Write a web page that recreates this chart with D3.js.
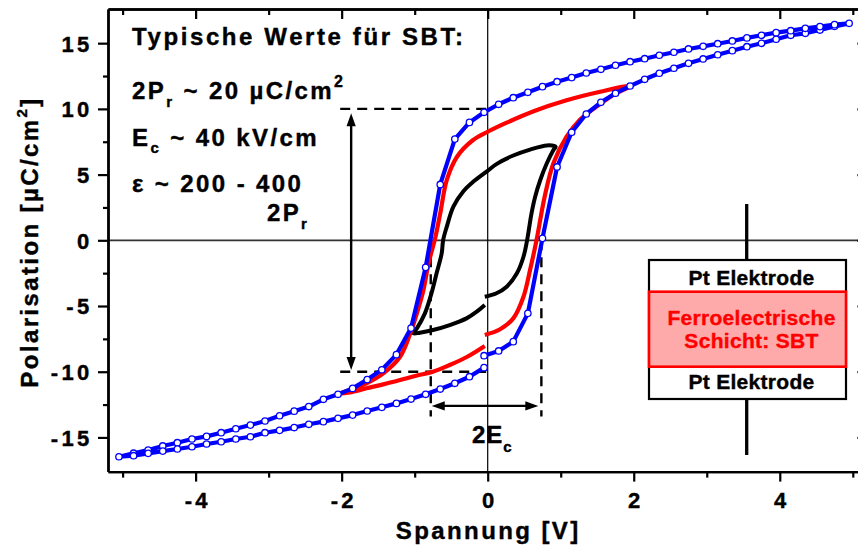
<!DOCTYPE html>
<html>
<head>
<meta charset="utf-8">
<script src="https://cdn.jsdelivr.net/npm/d3@7"></script>
<style>
  html, body { margin: 0; padding: 0; background: #fff; }
  svg { display: block; font-family: "Liberation Sans", Arial, sans-serif; font-weight: bold; }
  text { stroke: currentColor; stroke-width: 0.4px; }
</style>
</head>
<body>
<svg id="chart" width="858" height="547"></svg>
<script>
// Hysteresis sweeps, in measurement order (start at 0 V, up to +Vmax, down to -Vmax, back to 0 V)
// Voltage in V, polarisation in µC/cm²

// 5 V sweep (measured points, drawn with markers)
const blueV = [
  -0.05, 0.15, 0.35, 0.55, 0.75, 0.95, 1.15, 1.35, 1.55, 1.75, 1.95, 2.15, 2.35, 2.55, 2.75, 2.95, 3.15, 3.35, 3.55, 3.75, 3.95, 4.15, 4.35, 4.55, 4.75, 4.95,
  4.75, 4.55, 4.35, 4.15, 3.95, 3.75, 3.55, 3.35, 3.15, 2.95, 2.75, 2.55, 2.35, 2.15, 1.95, 1.75, 1.55, 1.35, 1.15, 0.95, 0.75, 0.55, 0.35, 0.15,
  -0.05, -0.25, -0.45, -0.65, -0.85, -1.05, -1.25, -1.45, -1.65, -1.85, -2.05, -2.25, -2.45, -2.65, -2.85, -3.05, -3.25, -3.45, -3.65, -3.85, -4.05, -4.25, -4.45, -4.65, -4.85, -5.05,
  -4.85, -4.65, -4.45, -4.25, -4.05, -3.85, -3.65, -3.45, -3.25, -3.05, -2.85, -2.65, -2.45, -2.25, -2.05, -1.85, -1.65, -1.45, -1.25, -1.05, -0.85, -0.65, -0.45, -0.25, -0.05
];
const blueP = [
  -8.78, -8.42, -7.71, -5.56, 0.15, 5.58, 8.22, 9.61, 10.5, 11.19, 11.74, 12.25, 12.71, 13.09, 13.47, 13.8, 14.12, 14.43, 14.73, 14.99, 15.3, 15.6, 15.75, 16.0, 16.28, 16.51,
  16.41, 16.26, 16.13, 15.95, 15.8, 15.6, 15.4, 15.17, 14.96, 14.76, 14.56, 14.31, 14.08, 13.82, 13.59, 13.32, 13.01, 12.73, 12.38, 12.07, 11.69, 11.26, 10.85, 10.35,
  9.74, 8.97, 7.7, 4.25, -2.06, -6.68, -8.7, -9.85, -10.6, -11.27, -11.72, -12.1, -12.65, -13.0, -13.35, -13.75, -14.06, -14.34, -14.64, -14.92, -15.12, -15.4, -15.65, -15.96, -16.2, -16.47,
  -16.39, -16.21, -16.04, -15.88, -15.71, -15.5, -15.33, -15.12, -14.95, -14.64, -14.46, -14.25, -14.0, -13.8, -13.55, -13.3, -12.99, -12.71, -12.41, -12.08, -11.72, -11.32, -10.88, -10.38, -9.69
];

// 2 V sweep
const redV = [
  -0.04, 0.17, 0.35, 0.49, 0.58, 0.67, 0.78, 0.9, 1.08, 1.26, 1.49, 1.72, 1.95,
  1.54, 1.08, 0.62, 0.26, 0.0, -0.2, -0.42, -0.56, -0.65, -0.72,
  -0.81, -0.88, -0.97, -1.06, -1.2, -1.43, -1.66, -1.89, -2.03,
  -1.89, -1.66, -1.43, -1.2, -0.98, -0.75, -0.52, -0.28, -0.04
];
const redP = [
  -7.2, -6.77, -5.94, -4.29, -2.26, 0.05, 3.32, 5.86, 7.88, 9.16, 10.17, 11.06, 11.74,
  11.3, 10.65, 9.8, 8.95, 8.26, 7.63, 6.36, 4.59, 2.05, 0.15,
  -1.75, -3.78, -5.56, -7.08, -8.86, -10.12, -10.88, -11.39, -11.68,
  -11.57, -11.26, -10.96, -10.63, -10.3, -10.0, -9.49, -8.86, -8.04
];

// 1 V sweep
const blackV = [
  -0.04, 0.12, 0.26, 0.4, 0.49, 0.54, 0.6, 0.65, 0.72, 0.81, 0.9, 0.93,
  0.81, 0.58, 0.35, 0.12, -0.01, -0.2, -0.33, -0.47, -0.56, -0.61, -0.63, -0.7, -0.77, -0.86, -0.97, -1.02,
  -0.93, -0.75, -0.52, -0.29, -0.15, -0.04
];
const blackP = [
  -4.29, -4.03, -3.53, -2.51, -1.25, 0.02, 2.05, 3.32, 4.59, 5.86, 6.87, 7.12,
  7.22, 6.9, 6.45, 5.8, 5.25, 4.45, 3.75, 2.56, 1.04, 0.02, -0.99, -2.51, -4.03, -5.56, -6.7, -7.08,
  -7.03, -6.83, -6.45, -5.94, -5.43, -4.92
];

// Annotation values
const remanentP = 10;             // ±Pr
const coerciveV = [-0.78, 0.735]; // ±Ec (as voltage)

// Axis ticks
const xMajorTicks = [-4, -2, 0, 2, 4];
const xMinorTicks = [-5, -3, -1, 1, 3, 5];
const yMajorTicks = [-15, -10, -5, 0, 5, 10, 15];
const yMinorTicks = [-12.5, -7.5, -2.5, 2.5, 7.5, 12.5];

// Text
const infoTitle = "Typische Werte für SBT:";
const xTitle = "Spannung [V]";
const layerTop = "Pt Elektrode";
const layerMid = ["Ferroelectrische", "Schicht: SBT"];
const layerBottom = "Pt Elektrode";

// ---------------------------------------------------------------
const svg = d3.select("#chart");
const x = d3.scaleLinear().domain([-5.2, 5.2]).range([108, 867.4]);
const y = d3.scaleLinear().domain([-17.6, 17.6]).range([471.6, 9]);

const plot = svg.append("g");

// zero lines
plot.append("line")
  .attr("x1", x(-5.2)).attr("x2", x(5.2)).attr("y1", y(0)).attr("y2", y(0))
  .attr("stroke", "#333").attr("stroke-width", 1.8);
plot.append("line")
  .attr("x1", x(0)).attr("x2", x(0)).attr("y1", y(17.6)).attr("y2", y(-17.6))
  .attr("stroke", "#000").attr("stroke-width", 1.2);

// dashed guide lines
const dash = (a, b) => plot.append("line")
  .attr("x1", x(a[0])).attr("y1", y(a[1])).attr("x2", x(b[0])).attr("y2", y(b[1]))
  .attr("stroke", "#000").attr("stroke-width", 2.4).attr("stroke-dasharray", "10,7");
dash([-2.02, remanentP], [0, remanentP]);
dash([-2.02, -remanentP], [0.04, -remanentP]);
dash([coerciveV[0], 0], [coerciveV[0], -13.4]);
dash([coerciveV[1], 0], [coerciveV[1], -13.4]);

// curves
const zip = (vs, ps) => vs.map((v, i) => [v, ps[i]]);
const smooth = d3.line().x(d => x(d[0])).y(d => y(d[1])).curve(d3.curveCatmullRom.alpha(0.5));
const straight = d3.line().x(d => x(d[0])).y(d => y(d[1]));

plot.append("path").datum(zip(blackV, blackP))
  .attr("d", smooth).attr("fill", "none").attr("stroke", "#000")
  .attr("stroke-width", 4).attr("stroke-linejoin", "round");
plot.append("path").datum(zip(redV, redP))
  .attr("d", smooth).attr("fill", "none").attr("stroke", "#ff0000")
  .attr("stroke-width", 4.2).attr("stroke-linejoin", "round");

const blue = zip(blueV, blueP);
plot.append("path").datum(blue)
  .attr("d", straight).attr("fill", "none").attr("stroke", "#0000ff")
  .attr("stroke-width", 4.2).attr("stroke-linejoin", "round");
plot.append("g").selectAll("circle").data(blue).join("circle")
  .attr("cx", d => x(d[0])).attr("cy", d => y(d[1])).attr("r", 3.2)
  .attr("fill", "#fff").attr("stroke", "#0000ff").attr("stroke-width", 1.3);

// double-headed arrows
function arrow(a, b) {
  const x1 = x(a[0]), y1 = y(a[1]), x2 = x(b[0]), y2 = y(b[1]);
  const len = Math.hypot(x2 - x1, y2 - y1), ux = (x2 - x1) / len, uy = (y2 - y1) / len;
  const hl = 13, hw = 4.6;
  plot.append("line")
    .attr("x1", x1 + ux * (hl - 2)).attr("y1", y1 + uy * (hl - 2))
    .attr("x2", x2 - ux * (hl - 2)).attr("y2", y2 - uy * (hl - 2))
    .attr("stroke", "#000").attr("stroke-width", 2.4);
  const head = (tx, ty, dx, dy) => {
    const bx = tx + dx * hl, by = ty + dy * hl;
    plot.append("path")
      .attr("d", `M${tx},${ty}L${bx - dy * hw},${by + dx * hw}L${bx + dy * hw},${by - dx * hw}Z`)
      .attr("fill", "#000");
  };
  head(x1, y1, ux, uy);
  head(x2, y2, -ux, -uy);
}
arrow([-1.87, 9.67], [-1.87, -9.87]);
arrow([-0.766, -12.6], [0.693, -12.6]);

// text annotations
const txt = (sel, xp, yp, size, spacing) => sel.append("text")
  .attr("x", xp).attr("y", yp).attr("font-size", size).attr("letter-spacing", spacing)
  .attr("fill", "#000").attr("color", "#000");

txt(plot, 132, 45, 24, 2.6).text(infoTitle);
{
  const t = txt(plot, 132, 99.3, 24, 2.4);
  t.append("tspan").text("2P");
  t.append("tspan").attr("font-size", 15).attr("dy", 7.4).text("r");
  t.append("tspan").attr("dy", -7.4).text(" ~ 20 µC/cm");
  t.append("tspan").attr("font-size", 16).attr("dy", -12).text("2");
}
{
  const t = txt(plot, 132, 145.7, 24, 2.4);
  t.append("tspan").text("E");
  t.append("tspan").attr("font-size", 15).attr("dy", 7.6).text("c");
  t.append("tspan").attr("dy", -7.6).text(" ~ 40 kV/cm");
}
txt(plot, 132, 191.7, 24, 2.4).text("ε ~ 200 - 400");
{
  const t = txt(plot, 267, 220.7, 24, 2.3);
  t.append("tspan").text("2P");
  t.append("tspan").attr("font-size", 15).attr("dy", 8).text("r");
}
{
  const t = txt(plot, 472, 443, 24, 1);
  t.append("tspan").text("2E");
  t.append("tspan").attr("font-size", 15).attr("dy", 9).text("c");
}

// layer stack sketch
const stack = svg.append("g");
const sx0 = 649, sx1 = 846, wireX = 746.7;
stack.append("line").attr("x1", wireX).attr("x2", wireX).attr("y1", 204).attr("y2", 260)
  .attr("stroke", "#000").attr("stroke-width", 3.3);
stack.append("line").attr("x1", wireX).attr("x2", wireX).attr("y1", 399).attr("y2", 455)
  .attr("stroke", "#000").attr("stroke-width", 3.3);
stack.append("rect").attr("x", sx0).attr("y", 260).attr("width", sx1 - sx0).attr("height", 139)
  .attr("fill", "#fff").attr("stroke", "#000").attr("stroke-width", 2.2);
stack.append("rect").attr("x", sx0).attr("y", 291.7).attr("width", sx1 - sx0).attr("height", 75)
  .attr("fill", "#ffaaaa").attr("stroke", "#ff0000").attr("stroke-width", 2.6);
const cx = 751.5;
const label = (yp, s, col) => stack.append("text").attr("x", cx).attr("y", yp)
  .attr("text-anchor", "middle").attr("font-size", 21).attr("letter-spacing", 0.3)
  .attr("fill", col).attr("color", col).text(s);
label(285, layerTop, "#000");
label(325, layerMid[0], "#ff0000");
label(348.3, layerMid[1], "#ff0000");
label(389, layerBottom, "#000");

// axes (frame with ticks on all four sides)
function styleAxis(g) {
  g.attr("font-family", "Liberation Sans, Arial, sans-serif").attr("font-size", 22);
  g.select(".domain").attr("stroke", "#000").attr("stroke-width", 2.4);
  g.selectAll(".tick line").attr("stroke", "#000").attr("stroke-width", 2.2);
  g.selectAll(".tick text").attr("fill", "#000").attr("color", "#000").attr("font-weight", "bold")
    .attr("letter-spacing", 3.3);
}
const fmt = d => d3.format("d")(d).replace("\u2212", "-");
const frame = svg.append("g");
// bottom
frame.append("g").attr("transform", `translate(0,${y(-17.6)})`)
  .call(d3.axisBottom(x).tickValues(xMinorTicks).tickSize(6).tickSizeOuter(0).tickFormat(""))
  .call(styleAxis);
frame.append("g").attr("transform", `translate(0,${y(-17.6)})`)
  .call(d3.axisBottom(x).tickValues(xMajorTicks).tickSize(10).tickSizeOuter(0).tickPadding(11).tickFormat(fmt))
  .call(styleAxis)
  .call(g => g.selectAll(".tick text").attr("dx", 1.6));
// top (inward ticks)
frame.append("g").attr("transform", `translate(0,${y(17.6)})`)
  .call(d3.axisBottom(x).tickValues(xMinorTicks).tickSize(6).tickSizeOuter(0).tickFormat(""))
  .call(styleAxis);
frame.append("g").attr("transform", `translate(0,${y(17.6)})`)
  .call(d3.axisBottom(x).tickValues(xMajorTicks).tickSize(10).tickSizeOuter(0).tickFormat(""))
  .call(styleAxis);
// left
frame.append("g").attr("transform", `translate(${x(-5.2)},0)`)
  .call(d3.axisLeft(y).tickValues(yMinorTicks).tickSize(5).tickSizeOuter(0).tickFormat(""))
  .call(styleAxis);
frame.append("g").attr("transform", `translate(${x(-5.2)},0)`)
  .call(d3.axisLeft(y).tickValues(yMajorTicks).tickSize(10).tickSizeOuter(0).tickPadding(5.5).tickFormat(fmt))
  .call(styleAxis)
  .call(g => g.selectAll(".tick text").attr("dy", "0.36em"));
// right (inward ticks)
frame.append("g").attr("transform", `translate(${x(5.2)},0)`)
  .call(d3.axisLeft(y).tickValues(yMinorTicks).tickSize(5).tickSizeOuter(0).tickFormat(""))
  .call(styleAxis);
frame.append("g").attr("transform", `translate(${x(5.2)},0)`)
  .call(d3.axisLeft(y).tickValues(yMajorTicks).tickSize(10).tickSizeOuter(0).tickFormat(""))
  .call(styleAxis);

// axis titles
svg.append("text").attr("x", 487 + 1.2).attr("y", 539.3).attr("text-anchor", "middle")
  .attr("font-size", 24).attr("letter-spacing", 2.4).attr("color", "#000").text(xTitle);
{
  const t = svg.append("text").attr("transform", "translate(37.5,242) rotate(-90)")
    .attr("text-anchor", "middle").attr("font-size", 24).attr("letter-spacing", 2.4).attr("color", "#000");
  t.append("tspan").text("Polarisation [µC/cm");
  t.append("tspan").attr("font-size", 15).attr("dy", -11).text("2");
  t.append("tspan").attr("dy", 11).text("]");
}
</script>
</body>
</html>
